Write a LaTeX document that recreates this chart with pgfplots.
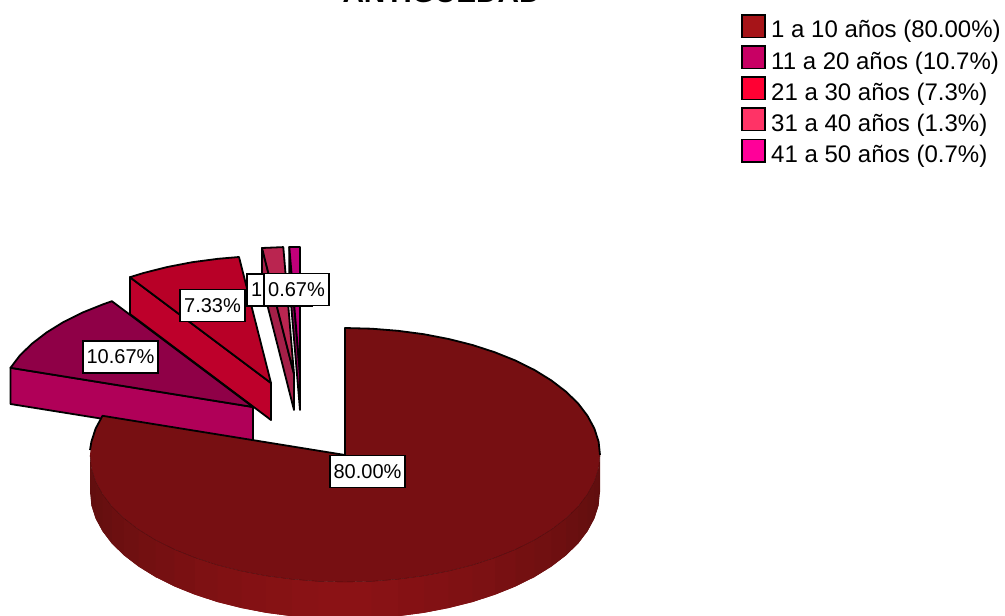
\documentclass[border=0pt]{standalone}
\usepackage{pgfplots}
\pgfplotsset{compat=1.18}
\usepackage{fontspec}
\setmainfont{Liberation Sans}
\definecolor{mainTop}{HTML}{770F12}
\definecolor{sideDark}{HTML}{5E0E0E}
\definecolor{sideLight}{HTML}{8B1215}
\definecolor{sliceBTop}{HTML}{8F0047}
\definecolor{sliceBSide}{HTML}{B00058}
\definecolor{sliceCTop}{HTML}{B80027}
\definecolor{sliceCSide}{HTML}{BE002B}
\definecolor{sliceDTop}{HTML}{BA2550}
\definecolor{sliceDSide}{HTML}{A51F48}
\definecolor{sliceETop}{HTML}{C0007A}
\definecolor{sliceESide}{HTML}{8C0055}
\definecolor{keyA}{HTML}{A61418}
\definecolor{keyB}{HTML}{C80064}
\definecolor{keyC}{HTML}{FF0033}
\definecolor{keyD}{HTML}{FF3366}
\definecolor{keyE}{HTML}{FF0099}
\tikzset{
  face/.style={fill=#1,draw=black,line width=1.8pt,line join=round},
  band/.style={fill=sideLight!#1!sideDark,draw=none},
  keybox/.style={fill=#1,draw=black,line width=1.7pt,line join=miter},
  valuelabel/.style={draw=black,fill=white,line width=1.7pt,inner sep=0pt,
    minimum height=32pt,font=\fontsize{20}{22}\selectfont},
  keytext/.style={anchor=base west,inner sep=0pt,font=\fontsize{24}{28}\selectfont,text=black}
}
\begin{document}
\begin{tikzpicture}
\begin{axis}[
  name=pie,
  scale only axis,width=1005pt,height=616pt,
  xmin=0,xmax=1005,ymin=0,ymax=616,y dir=reverse,
  hide axis
]
% smallest slice, 41 a 50 years
\addplot[face=sliceESide] coordinates {(289.3,247)(300,374)(300,410)(289.3,283)} -- cycle;
\addplot[face=sliceETop] coordinates {(289.3,247)(300,247)(300,374)} -- cycle;
% 31 a 40 years
\addplot[face=sliceDSide] coordinates {(262,248)(294,374)(294,410)(262,284)} -- cycle;
\addplot[face=sliceDTop] coordinates {(262,248)(283.3,247.1)(294,374)} -- cycle;
% 21 a 30 years
\addplot[face=sliceCSide] coordinates {(129.9,277.2)(271,383)(271,420)(129.9,314)} -- cycle;
\addplot[face=sliceCTop] coordinates {(271,383)(129.9,277.2)(143.5,273)(167.3,267)(192.2,262.2)(218,258.8)(239,257)} -- cycle;
% 11 a 20 years
\addplot[face=sliceBSide] coordinates {(10.5,367.8)(253,407)(253,443)(10.5,404)} -- cycle;
\addplot[face=sliceBTop] coordinates {(253,407)(10.5,367.8)(20,355.3)(32.2,343.5)(46.7,332.4)(63.5,322)(82.4,312.6)(103.1,304.3)(111.9,301.2)} -- cycle;
% large slice: rim bands, each running under the next one, right side first
\addplot[band=3] coordinates {(600,455)(598.6,468.3)(594.4,481.4)(594.4,518.4)(598.6,505.3)(600,492)} -- cycle;
\addplot[band=8] coordinates {(598.6,468.3)(594.4,481.4)(587.5,494.2)(587.5,531.2)(594.4,518.4)(598.6,505.3)} -- cycle;
\addplot[band=13] coordinates {(594.4,481.4)(587.5,494.2)(578,506.7)(578,543.7)(587.5,531.2)(594.4,518.4)} -- cycle;
\addplot[band=20] coordinates {(587.5,494.2)(578,506.7)(565.8,518.5)(565.8,555.5)(578,543.7)(587.5,531.2)} -- cycle;
\addplot[band=27] coordinates {(578,506.7)(565.8,518.5)(551.3,529.6)(551.3,566.6)(565.8,555.5)(578,543.7)} -- cycle;
\addplot[band=35] coordinates {(565.8,518.5)(551.3,529.6)(534.5,540)(534.5,577)(551.3,566.6)(565.8,555.5)} -- cycle;
\addplot[band=43] coordinates {(551.3,529.6)(534.5,540)(515.6,549.4)(515.6,586.4)(534.5,577)(551.3,566.6)} -- cycle;
\addplot[band=50] coordinates {(534.5,540)(515.6,549.4)(494.9,557.7)(494.9,594.7)(515.6,586.4)(534.5,577)} -- cycle;
\addplot[band=58] coordinates {(515.6,549.4)(494.9,557.7)(472.5,565)(472.5,602)(494.9,594.7)(515.6,586.4)} -- cycle;
\addplot[band=66] coordinates {(494.9,557.7)(472.5,565)(448.7,571)(448.7,608)(472.5,602)(494.9,594.7)} -- cycle;
\addplot[band=73] coordinates {(472.5,565)(448.7,571)(423.8,575.8)(423.8,612.8)(448.7,608)(472.5,602)} -- cycle;
\addplot[band=80] coordinates {(448.7,571)(423.8,575.8)(398,579.2)(398,616.2)(423.8,612.8)(448.7,608)} -- cycle;
\addplot[band=87] coordinates {(423.8,575.8)(398,579.2)(371.7,581.3)(371.7,618.3)(398,616.2)(423.8,612.8)} -- cycle;
\addplot[band=93] coordinates {(398,579.2)(371.7,581.3)(345,582)(345,619)(371.7,618.3)(398,616.2)} -- cycle;
% left side of the rim
\addplot[band=5] coordinates {(90,455)(91.4,468.3)(95.6,481.4)(95.6,518.4)(91.4,505.3)(90,492)} -- cycle;
\addplot[band=10] coordinates {(91.4,468.3)(95.6,481.4)(102.5,494.2)(102.5,531.2)(95.6,518.4)(91.4,505.3)} -- cycle;
\addplot[band=16] coordinates {(95.6,481.4)(102.5,494.2)(112,506.7)(112,543.7)(102.5,531.2)(95.6,518.4)} -- cycle;
\addplot[band=23] coordinates {(102.5,494.2)(112,506.7)(124.2,518.5)(124.2,555.5)(112,543.7)(102.5,531.2)} -- cycle;
\addplot[band=30] coordinates {(112,506.7)(124.2,518.5)(138.7,529.6)(138.7,566.6)(124.2,555.5)(112,543.7)} -- cycle;
\addplot[band=38] coordinates {(124.2,518.5)(138.7,529.6)(155.5,540)(155.5,577)(138.7,566.6)(124.2,555.5)} -- cycle;
\addplot[band=46] coordinates {(138.7,529.6)(155.5,540)(174.4,549.4)(174.4,586.4)(155.5,577)(138.7,566.6)} -- cycle;
\addplot[band=54] coordinates {(155.5,540)(174.4,549.4)(195.1,557.7)(195.1,594.7)(174.4,586.4)(155.5,577)} -- cycle;
\addplot[band=62] coordinates {(174.4,549.4)(195.1,557.7)(217.5,565)(217.5,602)(195.1,594.7)(174.4,586.4)} -- cycle;
\addplot[band=70] coordinates {(195.1,557.7)(217.5,565)(241.3,571)(241.3,608)(217.5,602)(195.1,594.7)} -- cycle;
\addplot[band=77] coordinates {(217.5,565)(241.3,571)(266.2,575.8)(266.2,612.8)(241.3,608)(217.5,602)} -- cycle;
\addplot[band=84] coordinates {(241.3,571)(266.2,575.8)(292,579.2)(292,616.2)(266.2,612.8)(241.3,608)} -- cycle;
\addplot[band=90] coordinates {(266.2,575.8)(292,579.2)(318.3,581.3)(318.3,618.3)(292,616.2)(266.2,612.8)} -- cycle;
\addplot[band=96] coordinates {(292,579.2)(318.3,581.3)(345,582)(345,619)(318.3,618.3)(292,616.2)} -- cycle;
% lightest band at the very front
\addplot[band=100] coordinates {(371.7,581.3)(345,582)(318.3,581.3)(318.3,618.3)(345,619)(371.7,618.3)} -- cycle;
% large slice: top face
\addplot[fill=mainTop,draw=none] coordinates {
  (345,455)(345,328)(371.7,328.7)(398,330.8)(423.8,334.2)(448.7,339)(472.5,345)(494.9,352.3)
  (515.6,360.6)(534.5,370)(551.3,380.4)(565.8,391.5)(578,403.3)(587.5,415.8)(594.4,428.6)
  (598.6,441.7)(600,455)(598.6,468.3)(594.4,481.4)(587.5,494.2)(578,506.7)(565.8,518.5)
  (551.3,529.6)(534.5,540)(515.6,549.4)(494.9,557.7)(472.5,565)(448.7,571)(423.8,575.8)
  (398,579.2)(371.7,581.3)(345,582)(318.3,581.3)(292,579.2)(266.2,575.8)(241.3,571)
  (217.5,565)(195.1,557.7)(174.4,549.4)(155.5,540)(138.7,529.6)(124.2,518.5)(112,506.7)
  (102.5,494.2)(95.6,481.4)(91.4,468.3)(90,455)(91.4,441.7)(95.6,428.6)(102.5,415.8)} -- cycle;
% hairline along the front of the top face
\addplot[draw=black!35!mainTop,line width=0.4pt] coordinates {
  (600,455)(598.6,468.3)(594.4,481.4)(587.5,494.2)(578,506.7)(565.8,518.5)
  (551.3,529.6)(534.5,540)(515.6,549.4)(494.9,557.7)(472.5,565)(448.7,571)(423.8,575.8)
  (398,579.2)(371.7,581.3)(345,582)(318.3,581.3)(292,579.2)(266.2,575.8)(241.3,571)
  (217.5,565)(195.1,557.7)(174.4,549.4)(155.5,540)(138.7,529.6)(124.2,518.5)(112,506.7)
  (102.5,494.2)(95.6,481.4)(91.4,468.3)(90,455)};
% black outline of the back of the large slice
\addplot[draw=black,line width=1.8pt,line join=round] coordinates {
  (90,450)(91.4,441.7)(95.6,428.6)(102.5,415.8)(345,455)(345,328)(371.7,328.7)(398,330.8)
  (423.8,334.2)(448.7,339)(472.5,345)(494.9,352.3)(515.6,360.6)(534.5,370)(551.3,380.4)
  (565.8,391.5)(578,403.3)(587.5,415.8)(594.4,428.6)(598.6,441.7)(600,455)};
% key swatches
\addplot[keybox=keyA] coordinates {(742,15)(765,15)(765,37.5)(742,37.5)} -- cycle;
\addplot[keybox=keyB] coordinates {(742,46)(765,46)(765,68.5)(742,68.5)} -- cycle;
\addplot[keybox=keyC] coordinates {(742,77)(765,77)(765,99.5)(742,99.5)} -- cycle;
\addplot[keybox=keyD] coordinates {(742,108)(765,108)(765,130.5)(742,130.5)} -- cycle;
\addplot[keybox=keyE] coordinates {(742,139.5)(765,139.5)(765,162)(742,162)} -- cycle;
% value labels
\node[valuelabel,minimum width=75pt] at (axis cs:120.5,357) {10.67\%};
\node[valuelabel,minimum width=65pt] at (axis cs:212.5,305.5) {7.33\%};
\node[valuelabel,minimum width=65pt] at (axis cs:279.5,290) {1.33\%};
\node[valuelabel,minimum width=65pt] at (axis cs:296.5,289.5) {0.67\%};
\node[valuelabel,minimum width=75pt] at (axis cs:367.5,471.5) {80.00\%};
% key text
\node[keytext] at (axis cs:771,37) {1 a 10 años (80.00\%)};
\node[keytext] at (axis cs:771,69) {11 a 20 años (10.7\%)};
\node[keytext] at (axis cs:771,100) {21 a 30 años (7.3\%)};
\node[keytext] at (axis cs:771,131) {31 a 40 años (1.3\%)};
\node[keytext] at (axis cs:771,162) {41 a 50 años (0.7\%)};
% title, running off the top of the page
\node[overlay,anchor=base,inner sep=0pt,font=\bfseries\fontsize{29.7}{33}\selectfont]
  at (axis cs:441.5,2) {ANTIGÜEDAD};
\end{axis}
% the page is exactly the plot rectangle
\pgfresetboundingbox
\path[use as bounding box] (pie.south west) rectangle (pie.north east);
\end{tikzpicture}
\end{document}
